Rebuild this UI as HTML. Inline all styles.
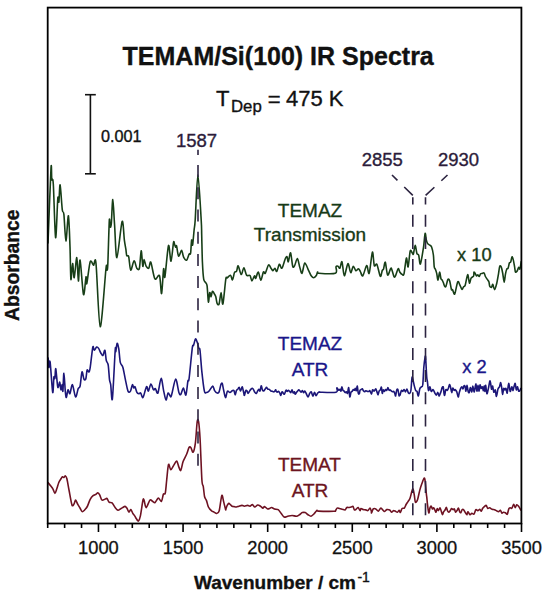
<!DOCTYPE html>
<html><head><meta charset="utf-8"><style>
html,body{margin:0;padding:0;background:#fff;width:549px;height:597px;overflow:hidden}
svg{display:block}
text{font-family:"Liberation Sans",sans-serif}
</style></head><body>
<svg width="549" height="597" viewBox="0 0 549 597">
<rect x="0" y="0" width="549" height="597" fill="#fff"/>
<!-- title -->
<text x="278.2" y="64.6" text-anchor="middle" font-size="25" font-weight="bold" fill="#111" stroke="#111" stroke-width="0.35">TEMAM/Si(100) IR Spectra</text>
<text x="216" y="105.6" font-size="22" fill="#111" stroke="#111" stroke-width="0.35">T</text>
<text x="231" y="111.6" font-size="16.8" fill="#111" stroke="#111" stroke-width="0.35">Dep</text>
<text x="267.8" y="107.2" font-size="22" fill="#111" stroke="#111" stroke-width="0.35">=</text>
<text x="286" y="105.6" font-size="22" fill="#111" stroke="#111" stroke-width="0.35">475 K</text>
<!-- scale bar -->
<g stroke="#111" stroke-width="1.6" fill="none">
<line x1="90.4" y1="94.7" x2="90.4" y2="173.8"/>
<line x1="85" y1="94.7" x2="95.8" y2="94.7"/>
<line x1="85" y1="173.8" x2="95.8" y2="173.8"/>
</g>
<text x="101" y="141.6" font-size="16.2" fill="#111" stroke="#111" stroke-width="0.35">0.001</text>
<!-- peak labels -->
<text x="196.5" y="146.6" text-anchor="middle" font-size="18.5" fill="#2c1c3a" stroke="#2c1c3a" stroke-width="0.35">1587</text>
<text x="382.3" y="166" text-anchor="middle" font-size="18.5" fill="#2c1c3a" stroke="#2c1c3a" stroke-width="0.35">2855</text>
<text x="458.5" y="166" text-anchor="middle" font-size="18.5" fill="#2c1c3a" stroke="#2c1c3a" stroke-width="0.35">2930</text>
<!-- curve labels -->
<g font-size="19" text-anchor="middle">
<text x="310" y="217.4" fill="#173a17" stroke="#173a17" stroke-width="0.35">TEMAZ</text>
<text x="310" y="241.3" fill="#173a17" stroke="#173a17" stroke-width="0.35">Transmission</text>
<text x="474.4" y="260.9" font-size="18.3" fill="#173a17" stroke="#173a17" stroke-width="0.35">x 10</text>
<text x="310" y="350.4" fill="#1a168a" stroke="#1a168a" stroke-width="0.35">TEMAZ</text>
<text x="310" y="375.8" fill="#1a168a" stroke="#1a168a" stroke-width="0.35">ATR</text>
<text x="474.4" y="372.8" font-size="18.3" fill="#1a168a" stroke="#1a168a" stroke-width="0.35">x 2</text>
<text x="309.5" y="471.2" fill="#6c1420" stroke="#6c1420" stroke-width="0.35">TEMAT</text>
<text x="310" y="496.6" fill="#6c1420" stroke="#6c1420" stroke-width="0.35">ATR</text>
</g>
<!-- curves -->
<g fill="none" stroke-width="1.6" stroke-linejoin="round" stroke-linecap="round">
<path stroke="#173e17" d="M48.00 243.00 C48.45 231.80 50.43 177.81 51.00 168.30 C51.57 158.79 51.45 177.25 51.80 179.60 C52.14 181.95 52.73 175.28 53.30 184.00 C53.87 192.72 54.93 235.52 55.60 237.70 C56.27 239.88 57.30 203.85 57.80 198.50 C58.29 193.15 58.55 204.04 58.90 202.00 C59.24 199.96 59.59 183.73 60.10 184.90 C60.61 186.07 61.73 205.39 62.30 209.80 C62.87 214.21 63.36 209.64 63.90 214.30 C64.44 218.97 65.23 240.68 65.90 240.90 C66.58 241.12 67.79 214.93 68.40 215.80 C69.02 216.67 69.62 237.16 70.00 246.70 C70.38 256.24 70.51 276.88 70.90 279.40 C71.29 281.92 72.10 263.75 72.60 263.50 C73.09 263.25 73.57 278.58 74.20 277.70 C74.83 276.81 76.17 257.11 76.80 257.60 C77.43 258.10 77.91 280.61 78.40 281.00 C78.90 281.39 79.33 258.18 80.10 260.20 C80.86 262.22 82.61 292.00 83.50 294.50 C84.39 297.00 85.50 278.53 86.00 276.90 C86.50 275.26 86.17 285.87 86.80 283.60 C87.43 281.34 89.20 264.56 90.20 261.80 C91.20 259.04 92.63 264.94 93.50 265.20 C94.37 265.45 95.00 254.26 96.00 263.50 C97.00 272.74 98.70 326.05 100.20 326.80 C101.70 327.55 105.00 276.99 106.00 268.50 C107.00 260.01 106.63 270.80 106.90 270.20 C107.17 269.60 107.44 271.93 107.80 264.50 C108.16 257.07 108.95 226.35 109.30 220.70 C109.64 215.04 109.80 226.35 110.10 226.80 C110.40 227.25 110.89 227.78 111.30 223.70 C111.70 219.62 112.30 199.38 112.80 199.60 C113.30 199.82 113.98 216.48 114.60 225.20 C115.21 233.91 115.78 258.25 116.90 257.70 C118.03 257.14 120.97 224.11 122.10 221.50 C123.22 218.89 123.83 236.12 124.40 240.30 C124.97 244.49 125.56 247.12 125.90 249.40 C126.25 251.68 126.28 254.39 126.70 255.50 C127.12 256.61 128.10 254.60 128.70 256.80 C129.30 259.00 129.89 269.60 130.70 270.20 C131.51 270.80 133.19 261.10 134.10 260.80 C135.01 260.50 136.00 267.09 136.80 268.20 C137.60 269.31 138.74 270.81 139.40 268.20 C140.06 265.59 140.69 251.10 141.20 250.80 C141.71 250.50 142.37 264.89 142.80 266.20 C143.24 267.50 143.60 259.50 144.10 259.50 C144.59 259.50 145.39 264.89 146.10 266.20 C146.81 267.50 148.09 268.80 148.80 268.20 C149.51 267.60 149.89 260.59 150.80 262.20 C151.72 263.81 153.59 276.89 154.90 278.90 C156.21 280.91 158.50 273.38 159.50 275.60 C160.50 277.82 160.98 294.70 161.60 293.70 C162.22 292.69 163.10 271.42 163.60 268.90 C164.09 266.38 164.16 280.39 164.90 276.90 C165.64 273.40 167.59 247.95 168.50 245.60 C169.41 243.25 170.25 261.65 171.00 261.20 C171.75 260.75 172.97 245.16 173.50 242.60 C174.03 240.03 174.19 243.42 174.50 244.10 C174.81 244.78 175.28 246.80 175.60 247.10 C175.91 247.40 176.15 244.73 176.60 246.10 C177.05 247.47 177.85 255.58 178.60 256.20 C179.35 256.81 180.85 250.05 181.60 250.20 C182.35 250.35 182.85 255.70 183.60 257.20 C184.35 258.70 185.78 260.65 186.60 260.20 C187.42 259.75 188.50 255.25 189.10 254.20 C189.70 253.15 190.22 255.31 190.60 253.20 C190.97 251.08 191.30 241.31 191.60 240.10 C191.90 238.88 192.22 246.61 192.60 245.10 C192.97 243.59 193.71 233.76 194.10 230.00 C194.49 226.24 194.63 228.30 195.20 220.00 C195.77 211.70 197.00 174.70 197.90 174.70 C198.80 174.70 200.63 210.95 201.20 220.00 C201.77 229.05 201.52 228.73 201.70 235.00 C201.88 241.27 202.10 255.17 202.40 261.80 C202.70 268.43 203.20 276.08 203.70 279.20 C204.19 282.32 205.19 281.60 205.70 282.60 C206.21 283.61 206.69 282.99 207.10 285.90 C207.50 288.81 208.01 301.00 208.40 302.00 C208.79 303.00 209.29 293.40 209.70 292.60 C210.10 291.81 210.69 296.89 211.10 296.70 C211.50 296.50 211.91 291.70 212.40 291.30 C212.90 290.90 213.89 293.19 214.40 294.00 C214.91 294.81 215.40 295.29 215.80 296.70 C216.21 298.11 216.60 302.30 217.10 303.40 C217.59 304.50 218.50 305.62 219.10 304.00 C219.70 302.38 220.53 292.60 221.10 292.60 C221.67 292.60 222.19 306.01 222.90 304.00 C223.61 301.99 225.16 283.12 225.80 279.20 C226.45 275.28 226.50 278.50 227.20 277.90 C227.90 277.30 229.70 274.90 230.50 275.20 C231.30 275.50 231.90 280.30 232.50 279.90 C233.10 279.50 233.88 273.81 234.50 272.50 C235.12 271.19 236.04 272.20 236.60 271.20 C237.16 270.19 237.51 265.31 238.20 265.80 C238.89 266.30 240.34 274.20 241.20 274.50 C242.05 274.80 243.09 267.69 243.90 267.80 C244.71 267.91 245.69 274.05 246.60 275.20 C247.51 276.35 249.20 274.64 250.00 275.50 C250.80 276.36 251.22 280.85 251.90 280.90 C252.58 280.94 253.93 276.18 254.50 275.80 C255.07 275.43 255.13 278.97 255.70 278.40 C256.27 277.83 257.54 271.71 258.30 272.00 C259.06 272.29 260.04 280.30 260.80 280.30 C261.56 280.30 262.72 273.05 263.40 272.00 C264.07 270.95 264.54 274.35 265.30 273.30 C266.06 272.25 267.64 265.76 268.50 265.00 C269.36 264.24 270.32 267.34 271.00 268.20 C271.68 269.06 272.42 270.70 273.00 270.70 C273.58 270.70 274.33 268.09 274.90 268.20 C275.47 268.31 276.14 271.98 276.80 271.40 C277.46 270.81 278.54 264.78 279.30 264.30 C280.06 263.82 281.03 268.96 281.90 268.20 C282.77 267.44 284.34 260.93 285.10 259.20 C285.87 257.47 286.52 256.31 287.00 256.70 C287.48 257.09 287.76 262.37 288.30 261.80 C288.84 261.23 289.94 252.22 290.60 252.90 C291.26 253.58 292.10 264.39 292.70 266.30 C293.30 268.21 293.90 266.75 294.60 265.60 C295.31 264.45 296.63 258.41 297.40 258.60 C298.16 258.80 299.01 264.69 299.70 266.90 C300.39 269.10 301.24 273.87 302.00 273.30 C302.76 272.73 303.80 263.49 304.80 263.10 C305.81 262.71 307.74 268.80 308.70 270.70 C309.66 272.60 310.44 274.75 311.20 275.80 C311.96 276.85 313.04 277.75 313.80 277.70 C314.56 277.65 315.73 276.36 316.30 275.50 C316.87 274.64 317.23 272.33 317.60 272.00 C317.98 271.67 316.13 273.11 318.80 273.30 C321.47 273.50 332.82 274.26 335.40 273.30 C337.98 272.34 335.61 267.96 336.00 266.90 C336.39 265.83 337.42 266.00 338.00 266.20 C338.58 266.39 339.30 268.86 339.90 268.20 C340.50 267.54 341.34 260.66 342.00 261.80 C342.66 262.94 343.42 275.51 344.30 275.80 C345.19 276.09 346.94 264.18 347.90 263.70 C348.86 263.22 349.89 272.21 350.70 272.60 C351.51 272.99 352.54 266.59 353.30 266.30 C354.06 266.01 355.04 270.32 355.80 270.70 C356.56 271.07 357.72 268.69 358.40 268.80 C359.07 268.91 359.64 270.35 360.30 271.40 C360.96 272.45 361.84 276.67 362.80 275.80 C363.76 274.93 365.74 265.98 366.70 265.60 C367.66 265.23 368.34 275.31 369.20 273.30 C370.06 271.29 371.63 253.35 372.40 252.20 C373.16 251.04 373.62 263.79 374.30 265.60 C374.98 267.42 376.00 262.69 376.90 264.30 C377.80 265.91 379.49 275.38 380.30 276.30 C381.11 277.22 381.82 271.46 382.30 270.40 C382.78 269.33 383.05 270.43 383.50 269.20 C383.95 267.97 384.69 261.31 385.30 262.20 C385.92 263.08 386.81 274.12 387.60 275.10 C388.40 276.08 389.99 269.58 390.60 268.70 C391.22 267.81 391.18 267.97 391.70 269.20 C392.22 270.43 393.49 276.01 394.10 276.90 C394.72 277.78 395.19 276.33 395.80 275.10 C396.42 273.87 397.58 269.13 398.20 268.70 C398.81 268.26 399.28 271.33 399.90 272.20 C400.51 273.07 401.69 274.25 402.30 274.50 C402.92 274.75 403.38 276.36 404.00 273.90 C404.62 271.44 405.78 259.15 406.40 258.10 C407.01 257.05 407.53 267.95 408.10 266.90 C408.67 265.85 409.58 253.21 410.20 251.10 C410.81 248.99 411.72 252.37 412.20 252.80 C412.68 253.24 412.95 255.14 413.40 254.00 C413.85 252.86 414.68 245.29 415.20 245.20 C415.72 245.11 416.38 251.90 416.90 253.40 C417.42 254.90 418.18 253.61 418.70 255.20 C419.22 256.79 419.69 265.06 420.40 264.00 C421.10 262.94 422.69 252.67 423.40 248.10 C424.10 243.53 424.67 234.73 425.10 233.50 C425.54 232.27 425.94 238.41 426.30 239.90 C426.66 241.39 426.98 242.61 427.50 243.40 C428.02 244.19 429.19 244.66 429.80 245.20 C430.42 245.74 431.06 245.53 431.60 247.00 C432.14 248.47 433.01 252.05 433.40 255.00 C433.79 257.95 433.90 264.56 434.20 266.70 C434.50 268.84 435.02 268.30 435.40 269.30 C435.77 270.31 436.31 271.78 436.70 273.40 C437.09 275.02 437.56 280.28 438.00 280.10 C438.44 279.92 439.17 272.44 439.60 272.20 C440.04 271.96 440.51 277.31 440.90 278.50 C441.29 279.69 441.82 279.47 442.20 280.10 C442.57 280.73 443.02 281.75 443.40 282.70 C443.77 283.64 444.32 285.84 444.70 286.40 C445.07 286.95 445.40 287.46 445.90 286.40 C446.39 285.33 447.43 280.11 448.00 279.30 C448.57 278.49 449.19 279.49 449.70 281.00 C450.21 282.51 450.96 288.08 451.40 289.40 C451.83 290.72 452.11 289.11 452.60 289.80 C453.10 290.49 453.94 295.20 454.70 294.00 C455.46 292.80 456.94 283.18 457.70 281.80 C458.46 280.42 459.17 283.66 459.80 284.80 C460.43 285.94 461.34 289.08 461.90 289.40 C462.45 289.71 463.00 287.53 463.50 286.90 C464.00 286.27 464.57 287.03 465.20 285.20 C465.83 283.37 467.07 275.01 467.70 274.70 C468.33 274.38 468.89 282.59 469.40 283.10 C469.91 283.61 470.47 279.17 471.10 278.10 C471.73 277.04 473.17 276.90 473.60 276.00 C474.04 275.10 473.75 272.43 474.00 272.10 C474.25 271.77 474.91 273.22 475.30 273.80 C475.69 274.38 476.21 275.87 476.60 276.00 C476.99 276.13 477.51 274.62 477.90 274.70 C478.29 274.77 478.79 276.63 479.20 276.50 C479.61 276.37 480.13 274.26 480.60 273.80 C481.07 273.34 481.78 273.52 482.30 273.40 C482.82 273.28 483.64 272.53 484.10 273.00 C484.56 273.47 484.95 275.58 485.40 276.50 C485.85 277.42 486.58 278.32 487.10 279.10 C487.62 279.88 488.51 280.65 488.90 281.70 C489.29 282.75 489.31 285.25 489.70 286.10 C490.09 286.96 491.03 287.67 491.50 287.40 C491.97 287.13 492.35 283.97 492.80 284.30 C493.25 284.63 493.92 289.72 494.50 289.60 C495.08 289.48 496.10 285.87 496.70 283.50 C497.30 281.13 498.03 276.43 498.50 273.80 C498.97 271.18 499.35 266.92 499.80 266.00 C500.25 265.08 501.05 266.53 501.50 267.70 C501.95 268.87 502.40 271.62 502.80 273.80 C503.20 275.98 503.80 282.20 504.20 282.20 C504.60 282.20 505.11 275.78 505.50 273.80 C505.89 271.82 506.41 269.84 506.80 269.00 C507.19 268.16 507.71 269.12 508.10 268.20 C508.49 267.28 509.01 263.83 509.40 262.90 C509.79 261.97 510.31 262.92 510.70 262.00 C511.09 261.08 511.61 257.12 512.00 256.80 C512.39 256.49 512.91 258.38 513.30 259.90 C513.69 261.41 514.27 265.07 514.60 266.90 C514.93 268.73 515.10 271.52 515.50 272.10 C515.90 272.69 516.83 271.52 517.30 270.80 C517.76 270.08 518.21 267.57 518.60 267.30 C518.99 267.03 519.51 269.86 519.90 269.00 C520.29 268.14 521.00 262.71 521.20 261.60"/>
<path stroke="#1c1678" d="M48.20 358.00 C48.29 359.43 48.52 366.93 48.80 367.50 C49.08 368.07 49.52 358.06 50.10 361.80 C50.69 365.54 52.13 390.10 52.70 392.40 C53.27 394.69 53.57 379.20 53.90 377.10 C54.23 375.00 54.62 379.64 54.90 378.40 C55.18 377.15 55.36 367.47 55.80 368.80 C56.23 370.13 57.21 385.29 57.80 387.30 C58.38 389.31 59.23 381.82 59.70 382.20 C60.17 382.57 60.52 389.43 60.90 389.80 C61.27 390.18 61.90 384.50 62.20 384.70 C62.50 384.89 62.64 392.81 62.90 391.10 C63.16 389.39 63.52 373.11 63.90 373.30 C64.28 373.50 65.03 388.77 65.40 392.40 C65.78 396.03 66.01 397.89 66.40 397.50 C66.79 397.11 67.47 390.37 68.00 389.80 C68.53 389.23 69.24 394.46 69.90 393.70 C70.56 392.94 71.55 384.22 72.40 384.70 C73.26 385.18 74.73 396.31 75.60 396.90 C76.47 397.48 77.53 390.24 78.20 388.60 C78.88 386.97 79.53 388.49 80.10 386.00 C80.67 383.51 81.43 373.05 82.00 372.00 C82.57 370.95 83.33 377.95 83.90 379.00 C84.47 380.05 85.32 380.33 85.80 379.00 C86.28 377.67 86.62 371.15 87.10 370.10 C87.58 369.05 88.52 372.48 89.00 372.00 C89.48 371.52 89.73 370.63 90.30 366.90 C90.87 363.16 92.23 349.59 92.80 347.10 C93.37 344.61 93.51 350.30 94.10 350.30 C94.69 350.30 96.03 347.39 96.70 347.10 C97.38 346.81 97.94 347.44 98.60 348.40 C99.26 349.36 100.44 352.45 101.10 353.50 C101.76 354.55 102.43 355.88 103.00 355.40 C103.57 354.92 104.41 349.54 104.90 350.30 C105.40 351.06 105.80 358.30 106.30 360.50 C106.80 362.70 107.72 362.13 108.20 365.00 C108.68 367.87 109.12 376.65 109.50 379.60 C109.88 382.56 110.27 381.82 110.70 384.70 C111.14 387.58 111.73 403.96 112.40 398.80 C113.08 393.64 114.69 357.38 115.20 350.30 C115.71 343.22 115.52 352.65 115.80 351.60 C116.08 350.55 116.65 343.69 117.10 343.30 C117.55 342.91 118.32 346.13 118.80 349.00 C119.28 351.87 119.69 359.62 120.30 362.40 C120.91 365.17 122.14 364.92 122.90 367.50 C123.67 370.08 124.64 376.06 125.40 379.60 C126.17 383.14 127.23 389.38 128.00 391.10 C128.76 392.83 129.84 392.06 130.50 391.10 C131.16 390.14 131.92 385.18 132.40 384.70 C132.88 384.22 133.31 387.60 133.70 387.90 C134.09 388.20 134.52 386.02 135.00 386.70 C135.48 387.38 136.33 391.35 136.90 392.40 C137.47 393.45 138.23 393.61 138.80 393.70 C139.37 393.79 140.07 392.43 140.70 393.00 C141.33 393.57 142.13 398.44 143.00 397.50 C143.87 396.56 145.69 387.66 146.50 386.70 C147.31 385.74 147.74 391.49 148.40 391.10 C149.06 390.71 150.14 384.30 150.90 384.10 C151.66 383.91 152.82 389.12 153.50 389.80 C154.18 390.48 154.74 388.12 155.40 388.60 C156.06 389.08 157.05 394.53 157.90 393.00 C158.75 391.47 160.23 378.68 161.10 378.40 C161.97 378.12 162.96 387.86 163.70 391.10 C164.44 394.34 165.34 399.72 166.00 400.00 C166.66 400.28 167.39 393.47 168.10 393.00 C168.81 392.53 170.13 396.78 170.70 396.90 C171.27 397.02 171.15 396.47 171.90 393.80 C172.65 391.13 174.65 379.30 175.70 379.10 C176.75 378.91 178.13 390.20 178.90 392.50 C179.67 394.80 180.12 395.07 180.80 394.40 C181.48 393.72 182.64 387.91 183.40 388.00 C184.16 388.09 185.22 396.05 185.90 395.00 C186.58 393.95 187.42 383.48 187.90 381.00 C188.38 378.52 188.44 383.47 189.10 378.50 C189.76 373.53 191.62 352.88 192.30 347.90 C192.98 342.92 193.12 346.65 193.60 345.30 C194.08 343.95 194.93 339.27 195.50 338.90 C196.07 338.52 196.92 341.45 197.40 342.80 C197.88 344.15 198.31 346.76 198.70 347.90 C199.09 349.04 199.52 346.77 200.00 350.40 C200.48 354.03 201.24 365.98 201.90 372.10 C202.56 378.22 203.72 388.14 204.40 391.20 C205.08 394.26 205.72 392.50 206.40 392.50 C207.08 392.50 207.96 392.16 208.90 391.20 C209.84 390.24 211.84 386.19 212.70 386.10 C213.55 386.01 213.92 389.55 214.60 390.60 C215.28 391.65 216.52 392.91 217.20 393.10 C217.88 393.30 218.53 393.23 219.10 391.90 C219.67 390.56 220.52 385.44 221.00 384.20 C221.48 382.95 221.91 382.73 222.30 383.60 C222.69 384.47 223.12 387.90 223.60 390.00 C224.08 392.10 224.93 397.42 225.50 397.60 C226.07 397.78 226.74 391.96 227.40 391.20 C228.06 390.44 229.14 392.59 229.90 392.50 C230.66 392.41 231.88 390.88 232.50 390.60 C233.12 390.32 233.59 389.94 234.00 390.60 C234.41 391.26 234.84 395.00 235.20 395.00 C235.56 395.00 235.98 391.50 236.40 390.60 C236.82 389.70 237.58 389.48 238.00 389.00 C238.42 388.52 238.84 387.10 239.20 387.40 C239.56 387.70 240.04 390.88 240.40 391.00 C240.76 391.12 241.30 388.80 241.60 388.20 C241.90 387.60 242.10 386.40 242.40 387.00 C242.70 387.60 243.30 390.94 243.60 392.20 C243.90 393.46 244.10 395.58 244.40 395.40 C244.70 395.22 245.24 391.72 245.60 391.00 C245.96 390.28 246.44 390.24 246.80 390.60 C247.16 390.96 247.64 393.22 248.00 393.40 C248.36 393.58 248.78 392.40 249.20 391.80 C249.62 391.20 250.32 389.94 250.80 389.40 C251.28 388.86 251.98 388.14 252.40 388.20 C252.82 388.26 253.24 389.20 253.60 389.80 C253.96 390.40 254.38 391.66 254.80 392.20 C255.22 392.74 255.98 393.58 256.40 393.40 C256.82 393.22 257.24 391.60 257.60 391.00 C257.96 390.40 258.44 389.40 258.80 389.40 C259.16 389.40 259.64 391.54 260.00 391.00 C260.36 390.46 260.84 385.98 261.20 385.80 C261.56 385.62 262.04 389.02 262.40 389.80 C262.76 390.58 263.18 391.12 263.60 391.00 C264.02 390.88 264.76 389.54 265.20 389.00 C265.63 388.46 266.12 387.40 266.50 387.40 C266.88 387.40 267.28 388.70 267.70 389.00 C268.12 389.30 268.82 389.10 269.30 389.40 C269.78 389.70 270.42 390.70 270.90 391.00 C271.38 391.30 272.02 391.28 272.50 391.40 C272.98 391.52 273.62 392.04 274.10 391.80 C274.58 391.56 275.41 389.92 275.70 389.80 C275.99 389.68 275.77 390.64 276.00 391.00 C276.23 391.36 276.84 392.14 277.20 392.20 C277.56 392.26 278.04 391.34 278.40 391.40 C278.76 391.46 279.24 392.00 279.60 392.60 C279.96 393.20 280.44 395.52 280.80 395.40 C281.16 395.28 281.64 392.16 282.00 391.80 C282.36 391.44 282.84 392.64 283.20 393.00 C283.56 393.36 283.98 394.62 284.40 394.20 C284.82 393.78 285.58 390.62 286.00 390.20 C286.42 389.78 286.84 391.40 287.20 391.40 C287.56 391.40 288.04 390.20 288.40 390.20 C288.76 390.20 289.24 391.04 289.60 391.40 C289.96 391.76 290.44 392.84 290.80 392.60 C291.16 392.36 291.64 389.74 292.00 389.80 C292.36 389.86 292.84 392.70 293.20 393.00 C293.56 393.30 294.10 391.62 294.40 391.80 C294.70 391.98 294.90 394.08 295.20 394.20 C295.50 394.32 296.04 393.08 296.40 392.60 C296.76 392.12 297.24 391.42 297.60 391.00 C297.96 390.58 298.44 389.80 298.80 389.80 C299.16 389.80 299.64 390.64 300.00 391.00 C300.36 391.36 300.84 392.26 301.20 392.20 C301.56 392.14 302.04 390.54 302.40 390.60 C302.76 390.66 303.24 392.54 303.60 392.60 C303.96 392.66 304.44 390.94 304.80 391.00 C305.16 391.06 305.52 392.10 306.00 393.00 C306.48 393.90 307.44 396.94 308.00 397.00 C308.56 397.06 309.20 394.18 309.70 393.40 C310.19 392.62 310.82 391.38 311.30 391.80 C311.78 392.22 312.42 396.14 312.90 396.20 C313.38 396.26 314.02 392.26 314.50 392.20 C314.98 392.14 315.62 395.68 316.10 395.80 C316.58 395.92 317.22 393.54 317.70 393.00 C318.18 392.46 319.00 392.37 319.30 392.20 C319.60 392.03 319.59 391.90 319.70 391.90 C319.81 391.90 317.54 392.15 320.00 392.20 C322.46 392.25 333.58 392.83 336.10 392.20 C338.62 391.57 336.51 388.45 336.80 388.00 C337.09 387.55 337.65 388.85 338.00 389.20 C338.35 389.55 338.80 390.30 339.10 390.30 C339.40 390.30 339.72 389.08 340.00 389.20 C340.28 389.32 340.73 391.45 341.00 391.10 C341.27 390.75 341.50 387.02 341.80 386.90 C342.10 386.78 342.65 389.67 343.00 390.30 C343.35 390.93 343.77 390.75 344.10 391.10 C344.43 391.45 344.86 392.50 345.20 392.60 C345.54 392.71 346.05 391.68 346.40 391.80 C346.75 391.92 347.15 394.03 347.50 393.40 C347.85 392.77 348.35 387.09 348.70 387.60 C349.05 388.11 349.45 396.11 349.80 396.80 C350.15 397.49 350.65 393.01 351.00 392.20 C351.35 391.39 351.75 391.80 352.10 391.40 C352.45 391.00 352.96 389.67 353.30 389.50 C353.64 389.33 354.12 390.47 354.40 390.30 C354.68 390.13 354.91 388.34 355.20 388.40 C355.49 388.46 355.99 391.04 356.30 390.70 C356.62 390.36 357.00 385.70 357.30 386.10 C357.60 386.50 357.99 392.26 358.30 393.40 C358.62 394.54 359.14 394.16 359.40 393.70 C359.65 393.24 359.75 390.93 360.00 390.30 C360.25 389.67 360.75 389.73 361.10 389.50 C361.45 389.27 361.96 388.62 362.30 388.80 C362.64 388.98 363.05 390.25 363.40 390.70 C363.75 391.15 364.25 391.80 364.60 391.80 C364.95 391.80 365.30 390.76 365.70 390.70 C366.10 390.64 366.84 391.29 367.30 391.40 C367.76 391.50 368.41 391.50 368.80 391.40 C369.19 391.29 369.50 390.29 369.90 390.70 C370.30 391.11 371.09 394.22 371.50 394.10 C371.91 393.98 372.20 390.35 372.60 389.90 C373.00 389.45 373.74 391.27 374.20 391.10 C374.66 390.94 375.31 388.75 375.70 388.80 C376.09 388.85 376.45 390.48 376.80 391.40 C377.15 392.31 377.65 394.94 378.00 394.90 C378.35 394.85 378.75 391.85 379.10 391.10 C379.45 390.35 379.96 390.48 380.30 389.90 C380.64 389.31 381.10 386.68 381.40 387.20 C381.70 387.72 382.01 393.00 382.30 393.40 C382.59 393.80 382.97 390.20 383.30 389.90 C383.63 389.60 384.15 391.46 384.50 391.40 C384.85 391.34 385.25 389.67 385.60 389.50 C385.95 389.33 386.46 390.59 386.80 390.30 C387.14 390.01 387.55 387.60 387.90 387.60 C388.25 387.60 388.75 389.96 389.10 390.30 C389.45 390.64 389.86 389.78 390.20 389.90 C390.54 390.02 391.05 390.81 391.40 391.10 C391.75 391.39 392.15 391.75 392.50 391.80 C392.85 391.85 393.35 391.16 393.70 391.40 C394.05 391.64 394.51 392.71 394.80 393.40 C395.09 394.09 395.32 396.46 395.60 396.00 C395.88 395.54 396.36 391.28 396.70 390.30 C397.04 389.32 397.55 388.69 397.90 389.50 C398.25 390.31 398.81 394.81 399.00 395.70 C399.19 396.58 399.05 395.49 399.20 395.40 C399.35 395.31 399.67 395.84 400.00 395.10 C400.33 394.37 400.98 391.06 401.40 390.50 C401.82 389.94 402.39 391.53 402.80 391.40 C403.21 391.26 403.70 389.53 404.10 389.60 C404.50 389.68 405.08 391.97 405.50 391.90 C405.92 391.82 406.48 388.97 406.90 389.10 C407.32 389.24 407.88 392.17 408.30 392.80 C408.72 393.43 409.31 393.65 409.70 393.30 C410.09 392.95 410.55 392.86 410.90 390.50 C411.25 388.14 411.70 379.25 412.00 377.60 C412.30 375.95 412.55 378.25 412.90 379.50 C413.25 380.75 413.88 384.25 414.30 385.90 C414.72 387.55 415.30 389.68 415.70 390.50 C416.10 391.32 416.60 390.57 417.00 391.40 C417.40 392.22 417.98 396.40 418.40 396.00 C418.82 395.60 419.32 390.08 419.80 388.70 C420.28 387.32 421.15 387.43 421.60 386.80 C422.05 386.17 422.47 387.39 422.80 384.50 C423.13 381.61 423.49 371.43 423.80 367.50 C424.12 363.57 424.63 359.81 424.90 358.30 C425.17 356.79 425.33 354.64 425.60 357.40 C425.87 360.16 426.43 373.12 426.70 376.70 C426.97 380.28 427.13 379.23 427.40 381.30 C427.67 383.37 428.12 389.68 428.50 390.50 C428.88 391.32 429.48 386.67 429.90 386.80 C430.32 386.94 430.82 390.98 431.30 391.40 C431.78 391.82 432.55 389.31 433.10 389.60 C433.66 389.89 434.50 392.48 435.00 393.30 C435.50 394.12 435.98 395.24 436.40 395.10 C436.82 394.97 437.39 392.26 437.80 392.40 C438.21 392.53 438.77 395.75 439.10 396.00 C439.43 396.25 439.70 394.82 440.00 394.10 C440.30 393.38 440.77 392.19 441.10 391.20 C441.43 390.21 441.87 388.10 442.20 387.50 C442.53 386.90 443.03 386.31 443.30 387.20 C443.57 388.08 443.79 392.20 444.00 393.40 C444.21 394.60 444.43 395.75 444.70 395.20 C444.97 394.64 445.41 390.42 445.80 389.70 C446.19 388.98 446.91 390.62 447.30 390.40 C447.69 390.17 448.07 389.07 448.40 388.20 C448.73 387.33 449.17 384.71 449.50 384.60 C449.83 384.50 450.27 386.30 450.60 387.50 C450.93 388.70 451.37 392.50 451.70 392.60 C452.03 392.71 452.43 388.53 452.80 388.20 C453.18 387.87 453.82 390.17 454.20 390.40 C454.57 390.62 454.91 389.47 455.30 389.70 C455.69 389.93 456.37 390.80 456.80 391.90 C457.24 393.00 457.82 396.89 458.20 397.00 C458.57 397.11 458.91 393.92 459.30 392.60 C459.69 391.28 460.41 389.07 460.80 388.20 C461.19 387.33 461.57 386.69 461.90 386.80 C462.23 386.91 462.67 389.06 463.00 388.90 C463.33 388.73 463.77 386.01 464.10 385.70 C464.43 385.38 464.93 385.98 465.20 386.80 C465.47 387.62 465.63 391.43 465.90 391.20 C466.17 390.97 466.67 385.30 467.00 385.30 C467.33 385.30 467.77 390.10 468.10 391.20 C468.43 392.30 468.87 393.16 469.20 392.60 C469.53 392.05 469.91 387.61 470.30 387.50 C470.69 387.39 471.43 392.11 471.80 391.90 C472.18 391.69 472.43 386.10 472.80 386.10 C473.18 386.10 473.85 392.23 474.30 391.90 C474.75 391.57 475.41 384.00 475.80 383.90 C476.19 383.79 476.57 390.99 476.90 391.20 C477.23 391.41 477.67 385.30 478.00 385.30 C478.33 385.30 478.80 391.26 479.10 391.20 C479.40 391.14 479.70 385.32 480.00 384.90 C480.30 384.48 480.75 388.11 481.10 388.40 C481.45 388.69 481.96 386.45 482.30 386.80 C482.64 387.15 483.12 390.81 483.40 390.70 C483.68 390.59 483.96 386.00 484.20 386.10 C484.44 386.21 484.77 391.52 485.00 391.40 C485.23 391.28 485.41 384.95 485.70 385.30 C485.99 385.65 486.50 393.24 486.90 393.70 C487.30 394.16 487.92 390.35 488.40 388.40 C488.88 386.45 489.63 380.59 490.10 380.70 C490.57 380.81 491.12 388.29 491.50 389.10 C491.88 389.91 492.25 385.64 492.60 386.10 C492.95 386.56 493.40 391.63 493.80 392.20 C494.20 392.77 494.91 389.27 495.30 389.90 C495.69 390.53 496.00 396.52 496.40 396.40 C496.80 396.28 497.53 390.54 498.00 389.10 C498.47 387.66 499.10 387.78 499.50 386.80 C499.90 385.82 500.35 382.36 500.70 382.60 C501.05 382.84 501.51 386.62 501.80 388.40 C502.09 390.18 502.32 394.50 502.60 394.50 C502.88 394.50 503.36 389.09 503.70 388.40 C504.04 387.71 504.55 389.90 504.90 389.90 C505.25 389.90 505.65 387.93 506.00 388.40 C506.35 388.87 506.80 393.75 507.20 393.00 C507.60 392.25 508.25 383.64 508.70 383.40 C509.15 383.16 509.74 390.89 510.20 391.40 C510.66 391.91 511.40 386.91 511.80 386.80 C512.21 386.69 512.57 390.70 512.90 390.70 C513.23 390.70 513.65 387.90 514.00 386.80 C514.35 385.70 514.86 382.94 515.20 383.40 C515.55 383.86 515.95 389.39 516.30 389.90 C516.64 390.41 517.15 386.63 517.50 386.80 C517.85 386.97 518.25 390.42 518.60 391.00 C518.95 391.58 519.45 391.09 519.80 390.70 C520.14 390.31 520.67 388.76 520.90 388.40 C521.12 388.04 521.24 388.31 521.30 388.30"/>
<path stroke="#6e1222" d="M47.90 482.50 C48.34 483.04 50.03 485.11 50.80 486.10 C51.56 487.09 52.38 488.01 53.00 489.10 C53.62 490.19 54.34 493.40 54.90 493.40 C55.45 493.40 56.12 490.74 56.70 489.10 C57.29 487.47 58.16 484.05 58.80 482.50 C59.44 480.95 60.45 479.67 61.00 478.80 C61.55 477.93 62.05 476.91 62.50 476.70 C62.95 476.49 63.56 477.52 64.00 477.40 C64.44 477.28 64.97 475.69 65.40 475.90 C65.84 476.11 66.35 476.61 66.90 478.80 C67.45 480.99 68.33 486.56 69.10 490.50 C69.86 494.44 71.23 503.13 72.00 505.10 C72.77 507.07 73.66 504.37 74.20 503.60 C74.74 502.84 75.06 499.88 75.60 500.00 C76.14 500.12 77.14 503.20 77.80 504.40 C78.46 505.60 79.34 506.92 80.00 508.00 C80.66 509.08 81.54 511.27 82.20 511.60 C82.86 511.93 83.64 510.96 84.40 510.20 C85.17 509.44 86.43 508.13 87.30 506.50 C88.17 504.87 89.33 500.94 90.20 499.30 C91.07 497.67 92.23 496.37 93.10 495.60 C93.97 494.84 95.30 494.63 96.00 494.20 C96.70 493.76 97.24 492.59 97.80 492.70 C98.36 492.81 99.09 493.80 99.70 494.90 C100.31 496.00 101.14 499.34 101.90 500.00 C102.67 500.66 104.03 499.53 104.80 499.30 C105.56 499.07 106.36 498.06 107.00 498.50 C107.64 498.94 108.33 501.54 109.10 502.20 C109.86 502.86 111.21 502.13 112.10 502.90 C112.98 503.66 114.13 506.20 115.00 507.30 C115.87 508.40 117.03 509.99 117.90 510.20 C118.77 510.41 120.09 509.09 120.80 508.70 C121.50 508.31 121.95 507.95 122.60 507.60 C123.24 507.25 124.44 506.29 125.10 506.40 C125.76 506.50 126.43 507.44 127.00 508.30 C127.57 509.16 128.33 511.92 128.90 512.10 C129.47 512.28 130.22 509.31 130.80 509.50 C131.39 509.69 132.22 512.44 132.80 513.40 C133.39 514.36 134.13 515.04 134.70 515.90 C135.27 516.75 136.03 518.34 136.60 519.10 C137.17 519.87 137.93 521.48 138.50 521.00 C139.07 520.52 139.72 519.05 140.40 515.90 C141.08 512.75 142.43 502.30 143.00 500.00 C143.57 497.70 143.73 499.46 144.20 500.60 C144.66 501.74 145.23 507.69 146.10 507.60 C146.97 507.51 149.04 500.94 150.00 500.00 C150.96 499.06 151.74 500.93 152.50 501.30 C153.26 501.68 154.23 502.98 155.10 502.50 C155.97 502.02 157.34 498.28 158.30 498.10 C159.26 497.92 160.74 501.88 161.50 501.30 C162.26 500.72 162.83 495.44 163.40 494.20 C163.97 492.95 164.81 495.13 165.30 493.00 C165.80 490.87 166.22 484.27 166.70 480.00 C167.18 475.73 167.88 466.03 168.50 464.50 C169.12 462.97 170.00 469.71 170.80 469.80 C171.60 469.89 172.92 466.42 173.80 465.10 C174.69 463.78 175.92 460.66 176.70 461.00 C177.48 461.34 178.38 465.99 179.00 467.40 C179.62 468.81 180.19 471.27 180.80 470.40 C181.42 469.53 182.22 464.06 183.10 461.60 C183.98 459.14 185.81 456.12 186.70 454.00 C187.58 451.88 188.38 448.48 189.00 447.50 C189.62 446.52 190.19 446.80 190.80 447.50 C191.42 448.20 192.41 452.90 193.10 452.20 C193.79 451.50 194.78 447.38 195.40 442.80 C196.02 438.23 196.72 424.87 197.20 421.70 C197.68 418.53 198.16 419.06 198.60 421.70 C199.03 424.34 199.60 430.56 200.10 439.30 C200.59 448.05 201.42 472.90 201.90 480.00 C202.38 487.10 202.90 484.08 203.30 486.60 C203.71 489.12 204.12 494.70 204.60 496.80 C205.08 498.90 205.93 499.07 206.50 500.60 C207.07 502.13 207.64 505.47 208.40 507.00 C209.16 508.53 210.75 510.04 211.60 510.80 C212.45 511.56 213.34 511.71 214.10 512.10 C214.86 512.49 215.94 513.60 216.70 513.40 C217.46 513.20 218.43 513.49 219.20 510.80 C219.97 508.12 221.12 496.83 221.80 495.50 C222.48 494.17 223.13 499.80 223.70 501.90 C224.27 504.00 225.25 508.50 225.60 509.50 C225.94 510.50 225.76 509.22 226.00 508.60 C226.24 507.99 226.78 506.18 227.20 505.40 C227.62 504.62 228.32 503.52 228.80 503.40 C229.28 503.28 229.92 504.18 230.40 504.60 C230.88 505.02 231.46 505.90 232.00 506.20 C232.54 506.50 233.34 506.48 234.00 506.60 C234.66 506.72 235.68 507.06 236.40 507.00 C237.12 506.94 237.96 506.44 238.80 506.20 C239.64 505.96 241.16 505.40 242.00 505.40 C242.84 505.40 243.56 506.20 244.40 506.20 C245.24 506.20 246.76 505.40 247.60 505.40 C248.44 505.40 249.28 506.32 250.00 506.20 C250.72 506.08 251.68 504.48 252.40 504.60 C253.12 504.72 254.01 506.94 254.80 507.00 C255.59 507.06 256.84 505.12 257.70 505.00 C258.56 504.88 259.72 505.72 260.50 506.20 C261.28 506.68 262.30 508.14 262.90 508.20 C263.50 508.26 263.78 506.48 264.50 506.60 C265.22 506.72 266.88 508.76 267.70 509.00 C268.52 509.24 269.40 508.43 270.00 508.20 C270.60 507.97 271.01 507.38 271.70 507.50 C272.39 507.62 273.62 508.67 274.60 509.00 C275.58 509.33 277.22 509.06 278.20 509.70 C279.18 510.34 280.22 512.20 281.10 513.30 C281.99 514.39 283.11 516.56 284.10 517.00 C285.09 517.44 286.50 516.43 287.70 516.20 C288.90 515.98 290.80 515.50 292.10 515.50 C293.41 515.50 295.31 516.31 296.40 516.20 C297.49 516.10 298.51 515.34 299.40 514.80 C300.28 514.26 301.43 512.93 302.30 512.60 C303.17 512.27 304.33 512.27 305.20 512.60 C306.07 512.93 307.23 514.26 308.10 514.80 C308.97 515.34 310.13 516.32 311.00 516.20 C311.87 516.08 313.01 514.87 313.90 514.00 C314.78 513.13 316.24 510.83 316.90 510.40 C317.56 509.96 315.74 510.97 318.30 511.10 C320.87 511.24 331.44 511.33 334.00 511.30 C336.56 511.27 334.93 511.38 335.40 510.90 C335.87 510.42 336.49 508.46 337.10 508.10 C337.72 507.74 338.72 508.33 339.50 508.50 C340.28 508.67 341.46 508.99 342.30 509.20 C343.14 509.41 344.43 510.15 345.10 509.90 C345.78 509.64 346.19 507.86 346.80 507.50 C347.42 507.14 348.52 507.56 349.20 507.50 C349.88 507.44 350.73 507.27 351.30 507.10 C351.87 506.94 352.54 505.98 353.00 506.40 C353.46 506.82 353.93 509.48 354.40 509.90 C354.87 510.32 355.53 509.56 356.10 509.20 C356.67 508.84 357.62 507.29 358.20 507.50 C358.78 507.71 359.58 510.45 360.00 510.60 C360.42 510.75 360.53 508.67 361.00 508.50 C361.47 508.33 362.38 509.29 363.10 509.50 C363.82 509.71 365.08 509.73 365.80 509.90 C366.52 510.06 367.27 510.87 367.90 510.60 C368.53 510.33 369.48 507.95 370.00 508.10 C370.52 508.25 371.17 510.88 371.40 511.60 C371.62 512.32 371.21 513.30 371.50 512.90 C371.79 512.50 372.66 509.50 373.30 508.90 C373.94 508.30 375.04 508.57 375.80 508.90 C376.56 509.23 377.63 511.22 378.40 511.10 C379.16 510.98 380.03 508.06 380.90 508.10 C381.77 508.15 383.31 511.17 384.20 511.40 C385.08 511.62 385.98 509.81 386.80 509.60 C387.62 509.39 389.00 509.61 389.70 510.00 C390.40 510.39 390.94 512.10 391.50 512.20 C392.06 512.31 392.84 510.87 393.40 510.70 C393.95 510.53 394.60 510.88 395.20 511.10 C395.80 511.33 396.80 512.32 397.40 512.20 C398.00 512.08 398.76 510.25 399.20 510.30 C399.63 510.35 399.87 512.77 400.30 512.50 C400.74 512.23 401.50 509.16 402.10 508.50 C402.70 507.84 403.70 508.70 404.30 508.10 C404.90 507.50 405.55 505.48 406.10 504.50 C406.66 503.52 407.42 502.53 408.00 501.60 C408.58 500.67 409.30 500.19 410.00 498.30 C410.70 496.41 412.06 489.48 412.70 489.00 C413.34 488.52 413.90 493.12 414.30 495.10 C414.70 497.08 414.90 501.56 415.40 502.20 C415.89 502.84 416.94 501.21 417.60 499.40 C418.26 497.58 419.16 492.47 419.80 490.10 C420.44 487.73 421.25 485.40 421.90 483.60 C422.54 481.80 423.61 478.43 424.10 478.10 C424.60 477.77 424.87 479.10 425.20 481.40 C425.53 483.69 426.06 491.00 426.30 493.40 C426.54 495.80 426.61 495.60 426.80 497.40 C427.00 499.20 427.30 503.06 427.60 505.40 C427.90 507.74 428.44 512.64 428.80 513.00 C429.16 513.36 429.64 508.82 430.00 507.80 C430.36 506.78 430.84 506.02 431.20 506.20 C431.56 506.38 432.04 508.76 432.40 509.00 C432.76 509.24 433.24 507.68 433.60 507.80 C433.96 507.92 434.44 509.14 434.80 509.80 C435.16 510.46 435.64 512.38 436.00 512.20 C436.36 512.02 436.84 508.84 437.20 508.60 C437.56 508.36 437.98 510.72 438.40 510.60 C438.82 510.48 439.58 507.74 440.00 507.80 C440.42 507.86 440.84 509.98 441.20 511.00 C441.56 512.02 442.04 514.48 442.40 514.60 C442.76 514.72 443.18 512.52 443.60 511.80 C444.02 511.08 444.78 510.46 445.20 509.80 C445.62 509.14 446.04 507.22 446.40 507.40 C446.76 507.58 447.24 510.28 447.60 511.00 C447.96 511.72 448.44 512.20 448.80 512.20 C449.16 512.20 449.58 511.54 450.00 511.00 C450.42 510.46 451.12 508.78 451.60 508.60 C452.08 508.42 452.78 509.74 453.20 509.80 C453.62 509.86 454.04 508.64 454.40 509.00 C454.76 509.36 455.18 512.02 455.60 512.20 C456.02 512.38 456.76 510.80 457.20 510.20 C457.63 509.60 458.12 507.96 458.50 508.20 C458.88 508.44 459.34 511.14 459.70 511.80 C460.06 512.46 460.54 512.90 460.90 512.60 C461.26 512.30 461.68 510.22 462.10 509.80 C462.52 509.38 463.22 509.38 463.70 509.80 C464.18 510.22 464.82 511.88 465.30 512.60 C465.78 513.32 466.63 514.39 466.90 514.60 C467.17 514.81 466.94 514.44 467.10 514.00 C467.27 513.56 467.56 511.59 468.00 511.70 C468.44 511.81 469.42 514.48 470.00 514.70 C470.58 514.93 471.31 513.28 471.90 513.20 C472.48 513.12 473.30 514.73 473.90 514.20 C474.50 513.68 475.31 510.23 475.90 509.70 C476.48 509.17 477.22 510.76 477.80 510.70 C478.38 510.64 479.28 509.23 479.80 509.30 C480.32 509.38 480.87 511.35 481.30 511.20 C481.74 511.05 482.19 509.04 482.70 508.30 C483.21 507.56 484.18 506.75 484.70 506.30 C485.22 505.85 485.75 505.00 486.20 505.30 C486.65 505.60 487.19 507.93 487.70 508.30 C488.21 508.68 488.94 507.65 489.60 507.80 C490.26 507.95 491.37 509.01 492.10 509.30 C492.84 509.59 493.84 509.49 494.50 509.70 C495.16 509.91 495.90 510.40 496.50 510.70 C497.10 511.00 497.92 511.77 498.50 511.70 C499.08 511.62 499.89 509.97 500.40 510.20 C500.91 510.43 501.45 512.90 501.90 513.20 C502.35 513.50 502.88 512.28 503.40 512.20 C503.92 512.12 504.81 512.40 505.40 512.70 C505.98 513.00 506.79 514.79 507.30 514.20 C507.81 513.62 508.35 509.76 508.80 508.80 C509.25 507.84 509.85 507.88 510.30 507.80 C510.75 507.73 511.29 508.82 511.80 508.30 C512.31 507.78 513.19 504.38 513.70 504.30 C514.21 504.23 514.75 507.73 515.20 507.80 C515.65 507.88 516.19 505.03 516.70 504.80 C517.21 504.57 518.01 505.56 518.60 506.30 C519.19 507.04 520.25 509.16 520.60 509.70 C520.95 510.24 520.86 509.87 520.90 509.90"/>
</g>
<!-- dashed lines -->
<g stroke="#2c2440" stroke-width="1.6" fill="none">
<path d="M198 465.7 L198 149.8" stroke-dasharray="12 10.2"/>
<path d="M412.8 515.3 L412.8 197.3" stroke-dasharray="12 10.2"/>
<path d="M425.5 515.3 L425.5 197.3" stroke-dasharray="12 10.2"/>
<path d="M412.8 195.4 L392 175" stroke-dasharray="12 9.5"/>
<path d="M425.6 195.4 L447.5 175" stroke-dasharray="12 9.5"/>
</g>
<!-- frame -->
<rect x="47.7" y="7.6" width="473.7" height="515.9" fill="none" stroke="#000" stroke-width="1.8"/>
<g stroke="#000" stroke-width="1.6">
<line x1="47.70" y1="523" x2="47.70" y2="528"/>
<line x1="64.62" y1="523" x2="64.62" y2="528"/>
<line x1="81.54" y1="523" x2="81.54" y2="528"/>
<line x1="98.46" y1="523" x2="98.46" y2="532"/>
<line x1="115.39" y1="523" x2="115.39" y2="528"/>
<line x1="132.31" y1="523" x2="132.31" y2="528"/>
<line x1="149.23" y1="523" x2="149.23" y2="528"/>
<line x1="166.15" y1="523" x2="166.15" y2="528"/>
<line x1="183.07" y1="523" x2="183.07" y2="532"/>
<line x1="199.99" y1="523" x2="199.99" y2="528"/>
<line x1="216.91" y1="523" x2="216.91" y2="528"/>
<line x1="233.84" y1="523" x2="233.84" y2="528"/>
<line x1="250.76" y1="523" x2="250.76" y2="528"/>
<line x1="267.68" y1="523" x2="267.68" y2="532"/>
<line x1="284.60" y1="523" x2="284.60" y2="528"/>
<line x1="301.52" y1="523" x2="301.52" y2="528"/>
<line x1="318.44" y1="523" x2="318.44" y2="528"/>
<line x1="335.36" y1="523" x2="335.36" y2="528"/>
<line x1="352.29" y1="523" x2="352.29" y2="532"/>
<line x1="369.21" y1="523" x2="369.21" y2="528"/>
<line x1="386.13" y1="523" x2="386.13" y2="528"/>
<line x1="403.05" y1="523" x2="403.05" y2="528"/>
<line x1="419.97" y1="523" x2="419.97" y2="528"/>
<line x1="436.89" y1="523" x2="436.89" y2="532"/>
<line x1="453.81" y1="523" x2="453.81" y2="528"/>
<line x1="470.74" y1="523" x2="470.74" y2="528"/>
<line x1="487.66" y1="523" x2="487.66" y2="528"/>
<line x1="504.58" y1="523" x2="504.58" y2="528"/>
<line x1="521.50" y1="523" x2="521.50" y2="532"/>
</g>
<g font-size="18.3" fill="#111" stroke="#111" stroke-width="0.3">
<text x="98.46" y="553.5" text-anchor="middle">1000</text>
<text x="183.07" y="553.5" text-anchor="middle">1500</text>
<text x="267.68" y="553.5" text-anchor="middle">2000</text>
<text x="352.29" y="553.5" text-anchor="middle">2500</text>
<text x="436.89" y="553.5" text-anchor="middle">3000</text>
<text x="521.50" y="553.5" text-anchor="middle">3500</text>
</g>
<text x="194" y="589" font-size="19" font-weight="bold" fill="#111" stroke="#111" stroke-width="0.35">Wavenumber / cm<tspan dx="1.5" dy="-6.8" font-size="14" font-weight="normal">-1</tspan></text>
<text transform="translate(19.3 265.2) rotate(-90)" text-anchor="middle" font-size="19.3" font-weight="bold" fill="#111" stroke="#111" stroke-width="0.35">Absorbance</text>
</svg>
</body></html>
